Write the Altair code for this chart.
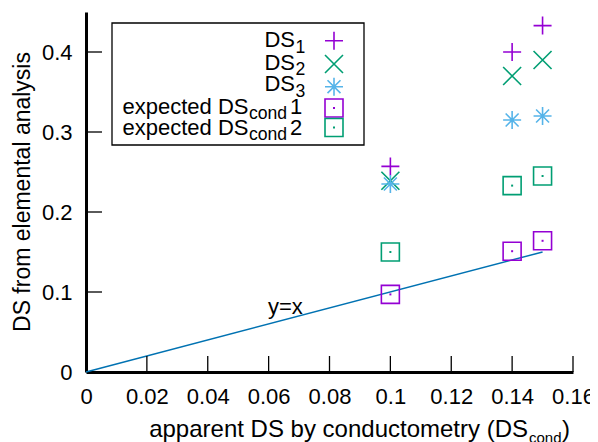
import altair as alt
import pandas as pd

# ---------------- data ----------------
X_VALUES = [0.10, 0.14, 0.15]
DS1 = [0.257, 0.400, 0.433]
DS2 = [0.239, 0.370, 0.390]
DS3 = [0.235, 0.315, 0.320]
EXP1 = [0.097, 0.151, 0.164]
EXP2 = [0.150, 0.233, 0.245]
LINE_X = [0.0, 0.15]
LINE_Y = [0.0, 0.15]
X_TICKS = [0, 0.02, 0.04, 0.06, 0.08, 0.1, 0.12, 0.14, 0.16]
Y_TICKS = [0, 0.1, 0.2, 0.3, 0.4]
LINE_LABEL = ["y=x"]
LINE_LABEL_X = [0.0655]
LINE_LABEL_Y = [0.072]

# ---------------- style ----------------
FONT = "Liberation Sans"
PURPLE = "#9400d3"
GREEN = "#009e73"
SKY = "#56b4e9"
BLUE = "#0072b2"
PLUS = "M-1,0L1,0M0,-1L0,1"
CROSS = "M-1,-1L1,1M-1,1L1,-1"
STAR = "M-1,0L1,0M0,-1L0,1M-0.72,-0.72L0.72,0.72M-0.72,0.72L0.72,-0.72"
SQUARE = "M-1,-1L1,-1L1,1L-1,1Z"
SYM = 324
W, H = 487, 360
X0, Y0 = 86, 12  # absolute page position of the plot origin


def rx(v):
    return v - X0


def ry(v):
    return v - Y0


x_scale = alt.Scale(domain=[0, 0.16], nice=False, zero=False)
y_scale = alt.Scale(domain=[0, 0.45], nice=False, zero=False)
x_axis = alt.Axis(values=X_TICKS, format="~g", ticks=False, tickSize=0, grid=False,
                  domainColor="black", domainWidth=3, labelFontSize=22, labelFont=FONT,
                  labelColor="black", labelPadding=14, title=None, labelFlush=False,
                  labelOverlap=False)
y_axis = alt.Axis(values=Y_TICKS, format="~g", ticks=False, tickSize=0, grid=False,
                  domainColor="black", domainWidth=3, labelFontSize=22, labelFont=FONT,
                  labelColor="black", labelPadding=14, title=None, labelFlush=False,
                  labelOverlap=False)
XE = alt.X("x:Q", scale=x_scale, axis=x_axis)
YE = alt.Y("y:Q", scale=y_scale, axis=y_axis)


def series(xs, ys):
    return pd.DataFrame({"x": xs, "y": ys})


def pts(xs, ys, shape, color):
    return alt.Chart(series(xs, ys)).mark_point(
        shape=shape, size=SYM, filled=False, strokeWidth=1.6, color=color, opacity=1
    ).encode(x=XE, y=YE)


def dots(xs, ys, color):
    return alt.Chart(series(xs, ys)).mark_point(
        shape="square", size=4, filled=True, color=color, opacity=1
    ).encode(x=XE, y=YE)


ONE = alt.Data(values=[{"a": 1}])


def txt(s, x, y, size=22, align="right", angle=0, baseline="alphabetic"):
    return alt.Chart(ONE).mark_text(
        text=s, font=FONT, fontSize=size, align=align, baseline=baseline,
        color="black", angle=angle
    ).encode(x=alt.value(x), y=alt.value(y))


def legend_sym(shape, color, y):
    return alt.Chart(ONE).mark_point(
        shape=shape, size=SYM, filled=False, strokeWidth=1.6, color=color, opacity=1
    ).encode(x=alt.value(rx(334)), y=alt.value(ry(y)))


def legend_dot(color, y):
    return alt.Chart(ONE).mark_point(
        shape="square", size=4, filled=True, color=color, opacity=1
    ).encode(x=alt.value(rx(334)), y=alt.value(ry(y)))


# ticks drawn inward
x_ticks = alt.Chart(pd.DataFrame({"x": X_TICKS[1:]})).mark_rule(
    color="black", strokeWidth=1.3
).encode(x=XE, y=alt.value(H), y2=alt.value(H - 16))
y_ticks = alt.Chart(pd.DataFrame({"y": Y_TICKS[1:]})).mark_rule(
    color="black", strokeWidth=1.3
).encode(y=YE, x=alt.value(0), x2=alt.value(16))

line = alt.Chart(series(LINE_X, LINE_Y)).mark_line(
    color=BLUE, strokeWidth=1.5
).encode(x=XE, y=YE)

line_label = alt.Chart(pd.DataFrame({"x": LINE_LABEL_X, "y": LINE_LABEL_Y, "t": LINE_LABEL})).mark_text(
    font=FONT, fontSize=22, align="center", baseline="alphabetic", color="black"
).encode(x=XE, y=YE, text="t:N")

legend_box = alt.Chart(ONE).mark_rect(
    fill="white", stroke="black", strokeWidth=1.3
).encode(x=alt.value(rx(112)), x2=alt.value(rx(364)), y=alt.value(ry(23)), y2=alt.value(ry(145)))

legend_layers = [
    legend_box,
    txt("DS", rx(295), ry(47.3)), txt("1", rx(295.5), ry(52.8), size=17.6, align="left"),
    legend_sym(PLUS, PURPLE, 40.7),
    txt("DS", rx(295), ry(69.5)), txt("2", rx(295.5), ry(75), size=17.6, align="left"),
    legend_sym(CROSS, GREEN, 64),
    txt("DS", rx(295), ry(91)), txt("3", rx(295.5), ry(96.5), size=17.6, align="left"),
    legend_sym(STAR, SKY, 86.7),
    txt("expected DS", rx(248.5), ry(113.5)),
    txt("cond", rx(249), ry(118.5), size=17.6, align="left"),
    txt("1", rx(290), ry(113.5), align="left"),
    legend_sym(SQUARE, PURPLE, 108), legend_dot(PURPLE, 108),
    txt("expected DS", rx(248.5), ry(135)),
    txt("cond", rx(249), ry(140), size=17.6, align="left"),
    txt("2", rx(290), ry(135), align="left"),
    legend_sym(SQUARE, GREEN, 127.5), legend_dot(GREEN, 127.5),
]

titles = [
    txt("apparent DS by conductometry (DS", rx(528), ry(437), size=24),
    txt("cond", rx(529), ry(443), size=15, align="left"),
    txt(")", rx(562), ry(437), size=24, align="left"),
    txt("DS from elemental analysis", rx(23), ry(192), size=23, align="center",
        angle=270, baseline="middle"),
]

chart = alt.layer(
    line,
    pts(X_VALUES, DS1, PLUS, PURPLE),
    pts(X_VALUES, DS2, CROSS, GREEN),
    pts(X_VALUES, DS3, STAR, SKY),
    pts(X_VALUES, EXP1, SQUARE, PURPLE), dots(X_VALUES, EXP1, PURPLE),
    pts(X_VALUES, EXP2, SQUARE, GREEN), dots(X_VALUES, EXP2, GREEN),
    x_ticks, y_ticks, line_label,
    *legend_layers,
    *titles,
).properties(
    width=W, height=H,
    autosize=alt.AutoSizeParams(type="none"),
    padding={"left": X0 - 8, "top": Y0 - 8, "right": 598 - 16 - (X0 - 8) - W, "bottom": 70},
    background="white",
).configure_view(stroke=None)

chart.save("out.html", embed_options={"renderer": "svg", "actions": False})
